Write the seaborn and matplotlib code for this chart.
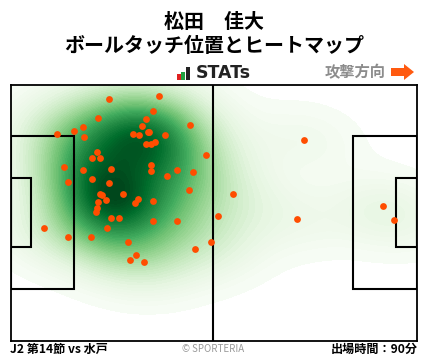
import numpy as np
import pandas as pd
import matplotlib.pyplot as plt
from matplotlib.patches import Rectangle, FancyArrow
import seaborn as sns

# touch positions (pitch drawn in picture units)
touch_x = [109.3, 159.3, 153.3, 98.3, 146.3, 190.3, 83.3, 142.3, 74.3, 57.3, 133.3, 139.3, 148.3, 149.3,
           165.3, 84.3, 146.3, 151.3, 155.3, 97.3, 92.3, 100.3, 206.3, 64.3, 83.3, 111.3, 151.3, 151.3,
           177.3, 193.3, 167.3, 92.3, 68.3, 109.3, 189.3, 100.0, 102.3, 123.3, 106.3, 98.3, 138.3, 135.3,
           153.3, 97.3, 96.3, 111.3, 119.3, 153.3, 177.3, 44.3, 107.3, 68.3, 91.3, 128.3, 195.3, 211.0,
           136.3, 130.3, 144.3, 304.3, 233.3, 218.3, 297.3, 383.3, 394.3]
touch_y = [99.3, 96.3, 111.3, 118.3, 119.3, 125.3, 127.3, 126.3, 131.3, 134.3, 134.3, 135.3, 132.3, 132.3,
           135.3, 137.3, 144.3, 144.3, 142.3, 152.3, 158.3, 158.3, 155.3, 167.3, 170.3, 169.3, 165.3, 171.3,
           170.3, 172.3, 176.3, 179.3, 182.3, 183.3, 190.3, 194.3, 195.3, 194.3, 200.3, 202.3, 199.3, 203.3,
           201.3, 208.0, 212.3, 218.3, 218.3, 221.3, 221.3, 228.3, 228.3, 237.3, 237.3, 242.3, 249.3, 242.3,
           255.3, 260.3, 262.3, 140.3, 194.3, 216.3, 219.3, 206.3, 220.3]

player = '松田　佳大'
title2 = 'ボールタッチ位置とヒートマップ'
match_label = 'J2 第14節 vs 水戸'
time_label = '出場時間：90分'
direction_label = '攻撃方向'

W, H = 428, 359
plt.rcParams['font.family'] = ['Noto Sans CJK JP', 'DejaVu Sans']

df = pd.DataFrame({'x': touch_x, 'y': touch_y})

fig = plt.figure(figsize=(W / 100, H / 100), dpi=100)
ax = fig.add_axes([10.5 / W, 1 - 340.5 / H, 406 / W, 256 / H])

sns.kdeplot(data=df, x='x', y='y', fill=True, cmap='Greens', levels=60, thresh=0.012,
            bw_adjust=1.15, gridsize=220, cut=8, ax=ax, zorder=1)

ax.set_xlim(10.5, 416.5)
ax.set_ylim(340.5, 84.5)
ax.set_xticks([])
ax.set_yticks([])
ax.set_xlabel('')
ax.set_ylabel('')
for s in ax.spines.values():
    s.set_linewidth(1.3)
    s.set_zorder(5)

# pitch lines
line = dict(fill=False, ec='black', lw=1.5, zorder=3)
ax.add_patch(Rectangle((10.5, 136), 63, 153, **line))
ax.add_patch(Rectangle((10.5, 178), 20.5, 69, **line))
ax.add_patch(Rectangle((353, 136), 63.5, 153, **line))
ax.add_patch(Rectangle((396, 178), 20.5, 69, **line))
ax.axvline(213, color='black', lw=1.5, zorder=3)

sns.scatterplot(data=df, x='x', y='y', color='#ff4d00', s=24, linewidth=0, ax=ax, zorder=4, clip_on=True)
ax.set_xlabel('')
ax.set_ylabel('')


def fx(p):
    return p / W


def fy(p):
    return 1 - p / H


fig.text(fx(214), fy(21), player, ha='center', va='center', fontsize=14.4, fontweight='bold')
fig.text(fx(214), fy(46), title2, ha='center', va='center', fontsize=14.4, fontweight='bold')
fig.text(fx(355), fy(72), direction_label, ha='center', va='center', fontsize=11, fontweight='bold', color='#8c8c8c')
fig.text(fx(196), fy(73.5), 'STATs', ha='left', va='center', fontsize=12.5, fontweight='bold',
         family='DejaVu Sans', color='#222222')
fig.text(fx(10), fy(349.5), match_label, ha='left', va='center', fontsize=8.7, fontweight='bold')
fig.text(fx(418), fy(349.5), time_label, ha='right', va='center', fontsize=8.7, fontweight='bold')
fig.text(fx(213), fy(348.5), '© SPORTERIA', ha='center', va='center', fontsize=7, color='#999999')

# logo bars and direction arrow in picture units
over = fig.add_axes([0, 0, 1, 1], zorder=10)
over.set_xlim(0, W)
over.set_ylim(H, 0)
over.axis('off')
over.add_patch(Rectangle((177, 74), 4, 5.5, fc='#e02020', ec='none'))
over.add_patch(Rectangle((181.5, 72), 4, 7.5, fc='#20a040', ec='none'))
over.add_patch(Rectangle((186.5, 67), 4, 12.5, fc='#222222', ec='none'))
over.add_patch(FancyArrow(391, 72, 23, 0, width=8, head_width=16, head_length=10,
                          length_includes_head=True, fc='#ff5a10', ec='none'))

fig.savefig('out.png', dpi=100)
